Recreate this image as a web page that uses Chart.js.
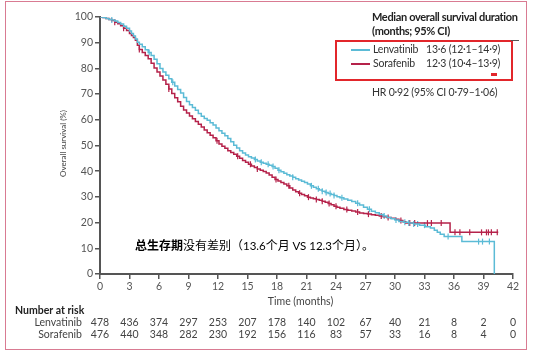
<!DOCTYPE html>
<html lang="zh">
<head>
  <meta charset="UTF-8">
  <title>Overall survival</title>
  <script src="https://cdn.jsdelivr.net/npm/chart.js"></script>
  <style>
    html, body { margin: 0; padding: 0; background: #fff; }
    #wrap { position: relative; width: 536px; height: 362px; overflow: hidden; }
    #frame { position: absolute; left: 5px; top: 1px; width: 520px; height: 347px; border: 1.5px solid #d97b92; }
    canvas { position: absolute; left: 0; top: 0; }
    .txt { position: absolute; white-space: nowrap; font-family: Lato, "DejaVu Sans Condensed", sans-serif; color: #333; font-size: 10.5px; line-height: 13px; letter-spacing: -0.2px; }
    .b { font-weight: bold; font-size: 11px; letter-spacing: -0.35px; color: #222; }
    #legbox { position: absolute; left: 335px; top: 40px; width: 174px; height: 37px; border: 2px solid #e2262b; }
    .sw { position: absolute; height: 1.5px; width: 19px; }
    #note { position: absolute; left: 135px; top: 236px; font-family: "Noto Sans CJK SC", sans-serif; font-size: 12px; line-height: 17px; color: #000; white-space: nowrap; }
    #note span { font-family: Lato, sans-serif; font-size: 11.5px; }
  </style>
</head>
<body>
<div id="wrap">
  <canvas id="km" width="536" height="362"></canvas>
  <div id="frame"></div>
  <div class="txt b" style="left:372px; top:10px;">Median overall survival duration</div>
  <div class="txt b" style="left:372px; top:24px;">(months; 95% CI)</div>
  <div id="legbox"></div>
  <div style="position:absolute; left:511px; top:40px; width:8px; height:1px; background:#555;"></div>
  <div class="sw" style="left:351px; top:49px; background:#5bbbd6;"></div>
  <div class="sw" style="left:351px; top:63px; background:#b5224a;"></div>
  <div class="txt" style="left:373px; top:43px;">Lenvatinib</div>
  <div class="txt" style="left:426px; top:43px;">13·6 (12·1–14·9)</div>
  <div class="txt" style="left:373px; top:57px;">Sorafenib</div>
  <div class="txt" style="left:426px; top:57px;">12·3 (10·4–13·9)</div>
  <div style="position:absolute; left:491px; top:73px; width:6px; height:3px; background:#e2262b;"></div>
  <div class="txt" style="left:372px; top:86px;">HR 0·92 (95% CI 0·79–1·06)</div>
  <div id="note"><b>总生存期</b>没有差别（<span>13.6</span>个月 <span>VS 12.3</span>个月）。</div>
</div>

<script>
// Kaplan-Meier, lenvatinib
const lenvTimes = [0, 0.3, 0.6, 0.9, 1.2, 1.5, 1.8, 2.1, 2.4, 2.7, 3.0, 3.2, 3.4, 3.6, 3.8, 4.0, 4.3, 4.6, 4.9, 5.2, 5.5, 5.8, 6.1, 6.4, 6.7, 7.0, 7.3, 7.6, 7.9, 8.2, 8.5, 8.8, 9.1, 9.4, 9.7, 10.0, 10.3, 10.6, 10.9, 11.2, 11.5, 11.8, 12.1, 12.4, 12.7, 13.0, 13.3, 13.6, 13.9, 14.2, 14.5, 14.8, 15.1, 15.4, 15.7, 16.0, 16.3, 16.6, 16.9, 17.2, 17.5, 17.8, 18.1, 18.4, 18.7, 19.0, 19.3, 19.6, 19.9, 20.2, 20.5, 20.8, 21.1, 21.4, 21.7, 22.0, 22.3, 22.6, 22.9, 23.2, 23.5, 23.8, 24.1, 24.4, 24.8, 25.2, 25.6, 26.0, 26.4, 26.8, 27.2, 27.6, 28.0, 28.4, 28.8, 29.2, 29.6, 30.0, 30.4, 30.9, 31.4, 31.9, 32.5, 33.1, 33.6, 34.0, 34.3, 34.6, 35.0, 36.8, 40.1];
const lenvSurv  = [100, 99.8, 99.4, 99.0, 98.8, 98.4, 97.9, 97.3, 96.4, 95.6, 94.6, 93.6, 92.6, 91.4, 90.2, 89.4, 88.4, 87.3, 86.2, 85.0, 83.6, 81.8, 80.0, 78.6, 77.3, 76.0, 74.6, 73.2, 71.8, 70.4, 68.7, 67.1, 65.9, 64.8, 63.7, 62.5, 61.4, 60.5, 59.8, 58.9, 58.0, 56.8, 55.7, 54.8, 53.8, 52.7, 51.5, 50.1, 49.0, 48.0, 47.1, 46.3, 45.6, 45.1, 44.6, 44.0, 43.5, 43.1, 42.7, 42.3, 41.8, 41.1, 40.4, 39.8, 39.2, 38.6, 38.1, 37.6, 37.1, 36.6, 36.1, 35.6, 35.0, 34.3, 33.8, 33.2, 32.7, 32.2, 31.7, 31.3, 30.9, 30.5, 30.1, 29.7, 29.2, 28.7, 28.2, 27.5, 26.8, 26.0, 25.2, 24.4, 23.8, 23.2, 22.6, 22.0, 21.5, 21.0, 20.4, 20.1, 19.8, 19.5, 19.0, 18.4, 17.9, 17.0, 16.2, 15.5, 14.6, 12.6, 0];
const lenvCensored = [1.2, 5.0, 7.4, 15.8, 16.4, 17.1, 17.6, 18.2, 19.6, 21.5, 22.2, 22.6, 23.0, 23.4, 23.8, 24.6, 26.2, 27.4, 28.9, 30.1, 31.0, 31.4, 31.9, 32.3, 33.0, 35.4, 38.5, 38.9, 39.6];

// Kaplan-Meier, sorafenib
const soraTimes = [0, 0.3, 0.6, 0.9, 1.2, 1.5, 1.8, 2.1, 2.4, 2.7, 3.0, 3.2, 3.4, 3.6, 3.8, 4.0, 4.3, 4.6, 4.9, 5.2, 5.5, 5.8, 6.1, 6.4, 6.7, 7.0, 7.3, 7.6, 7.9, 8.2, 8.5, 8.8, 9.1, 9.4, 9.7, 10.0, 10.3, 10.6, 10.9, 11.2, 11.5, 11.8, 12.1, 12.4, 12.7, 13.0, 13.3, 13.6, 13.9, 14.2, 14.5, 14.8, 15.1, 15.4, 15.7, 16.0, 16.3, 16.6, 16.9, 17.2, 17.5, 17.8, 18.1, 18.4, 18.7, 19.0, 19.3, 19.6, 19.9, 20.2, 20.5, 20.8, 21.1, 21.4, 21.7, 22.0, 22.3, 22.6, 22.9, 23.2, 23.5, 23.8, 24.1, 24.4, 24.8, 25.2, 25.6, 26.0, 26.4, 26.8, 27.2, 27.6, 28.0, 28.4, 28.8, 29.2, 29.6, 30.0, 30.4, 30.8, 31.1, 35.6, 40.5];
const soraSurv  = [100, 99.8, 99.4, 99.0, 98.6, 98.0, 97.4, 96.6, 95.6, 94.7, 93.6, 92.8, 92.0, 91.0, 89.0, 87.4, 86.2, 85.0, 83.8, 82.0, 80.2, 78.6, 77.0, 75.5, 73.8, 72.0, 70.2, 68.6, 67.0, 65.3, 63.8, 62.6, 61.5, 60.4, 59.3, 58.3, 57.2, 56.0, 55.0, 54.0, 53.0, 51.8, 50.6, 49.7, 48.9, 48.0, 47.3, 46.6, 45.8, 45.0, 44.2, 43.5, 42.7, 42.0, 41.4, 40.9, 40.4, 39.9, 39.3, 38.5, 37.6, 36.8, 36.2, 35.6, 35.0, 34.3, 33.5, 32.7, 32.0, 31.4, 30.9, 30.4, 29.9, 29.6, 29.3, 29.0, 28.7, 28.3, 27.9, 27.4, 26.9, 26.4, 26.0, 25.6, 25.1, 24.8, 24.5, 24.1, 23.7, 23.5, 23.3, 23.1, 22.9, 22.6, 22.3, 22.0, 21.7, 21.3, 20.8, 20.3, 19.8, 16.2, 16.2];
const soraCensored = [1.5, 2.4, 4.0, 7.0, 11.9, 14.0, 15.3, 16.0, 17.9, 19.2, 20.3, 21.2, 22.0, 22.6, 23.3, 24.0, 25.1, 26.2, 27.3, 28.6, 29.3, 30.6, 31.5, 32.0, 33.3, 33.7, 34.7, 36.1, 36.6, 37.6, 38.8, 39.3, 39.5, 39.8, 40.4];

// number at risk
const riskTimes = [0, 3, 6, 9, 12, 15, 18, 21, 24, 27, 30, 33, 36, 39, 42];
const lenvRisk = [478, 436, 374, 297, 253, 207, 178, 140, 102, 67, 40, 21, 8, 2, 0];
const soraRisk = [476, 440, 348, 282, 230, 192, 156, 116, 83, 57, 33, 16, 8, 4, 0];

const BLUE = '#5bbbd6';
const RED = '#b5224a';
const AXIS = '#555';
const FONT = 'Lato, "DejaVu Sans Condensed", sans-serif';

function toPoints(xs, ys) {
  return xs.map((x, i) => ({ x: x, y: ys[i] }));
}

// step value of a curve at time t
function survAt(xs, ys, t) {
  let v = ys[0];
  for (let i = 0; i < xs.length; i++) {
    if (xs[i] <= t) v = ys[i]; else break;
  }
  return v;
}

function censorPoints(times, xs, ys) {
  return times.map(t => ({ x: t, y: survAt(xs, ys, t) }));
}

const extraText = {
  id: 'extraText',
  afterDraw(chart) {
    const ctx = chart.ctx;
    const xs = chart.scales.x;
    const area = chart.chartArea;
    ctx.save();
    ctx.fillStyle = '#444';
    ctx.textBaseline = 'middle';

    // y axis title
    ctx.save();
    ctx.translate(63, (area.top + area.bottom) / 2 - 2);
    ctx.rotate(-Math.PI / 2);
    ctx.textAlign = 'center';
    ctx.font = '8px ' + FONT;
    ctx.fillText('Overall survival (%)', 0, 0);
    ctx.restore();

    ctx.textAlign = 'center';
    ctx.font = '10.5px ' + FONT;
    ctx.fillText('Time (months)', (area.left + area.right) / 2 - 6, 302);

    ctx.textAlign = 'left';
    ctx.font = 'bold 10.5px ' + FONT;
    ctx.fillStyle = '#222';
    ctx.fillText('Number at risk', 15, 311);

    ctx.font = '10.5px ' + FONT;
    ctx.fillStyle = '#444';
    ctx.textAlign = 'right';
    ctx.fillText('Lenvatinib', 82, 323);
    ctx.fillText('Sorafenib', 82, 335);
    ctx.textAlign = 'center';
    riskTimes.forEach((t, i) => {
      const px = xs.getPixelForValue(t);
      ctx.fillText(String(lenvRisk[i]), px, 323);
      ctx.fillText(String(soraRisk[i]), px, 335);
    });
    ctx.restore();
  }
};

new Chart(document.getElementById('km'), {
  type: 'scatter',
  data: {
    datasets: [
      {
        label: 'Lenvatinib',
        data: toPoints(lenvTimes, lenvSurv),
        showLine: true, stepped: true,
        borderColor: BLUE, borderWidth: 1.5,
        pointRadius: 0
      },
      {
        label: 'Sorafenib',
        data: toPoints(soraTimes, soraSurv),
        showLine: true, stepped: true,
        borderColor: RED, borderWidth: 1.5,
        pointRadius: 0
      },
      {
        label: 'Lenvatinib censored',
        data: censorPoints(lenvCensored, lenvTimes, lenvSurv),
        pointStyle: 'line', rotation: 90, pointRadius: 3,
        borderColor: BLUE, borderWidth: 1.2
      },
      {
        label: 'Sorafenib censored',
        data: censorPoints(soraCensored, soraTimes, soraSurv),
        pointStyle: 'line', rotation: 90, pointRadius: 3,
        borderColor: RED, borderWidth: 1.2
      }
    ]
  },
  options: {
    responsive: false,
    animation: false,
    layout: { padding: { left: 0, top: 17, right: 23, bottom: 68 } },
    plugins: { legend: { display: false }, tooltip: { enabled: false } },
    scales: {
      x: {
        type: 'linear', min: 0, max: 42,
        afterFit: s => { s.height = 20; },
        ticks: { stepSize: 3, color: '#555', font: { family: FONT, size: 10.5 }, padding: 1 },
        grid: { drawOnChartArea: false, drawTicks: true, tickLength: 5, color: AXIS, lineWidth: 1.5 },
        border: { color: AXIS, width: 2 }
      },
      y: {
        min: 0, max: 100,
        afterFit: s => { s.width = 100; },
        ticks: { stepSize: 10, color: '#555', font: { family: FONT, size: 10.5 }, padding: 2 },
        grid: { drawOnChartArea: false, drawTicks: true, tickLength: 5, color: AXIS, lineWidth: 1.5 },
        border: { color: AXIS, width: 2 }
      }
    }
  },
  plugins: [extraText]
});
</script>
</body>
</html>
